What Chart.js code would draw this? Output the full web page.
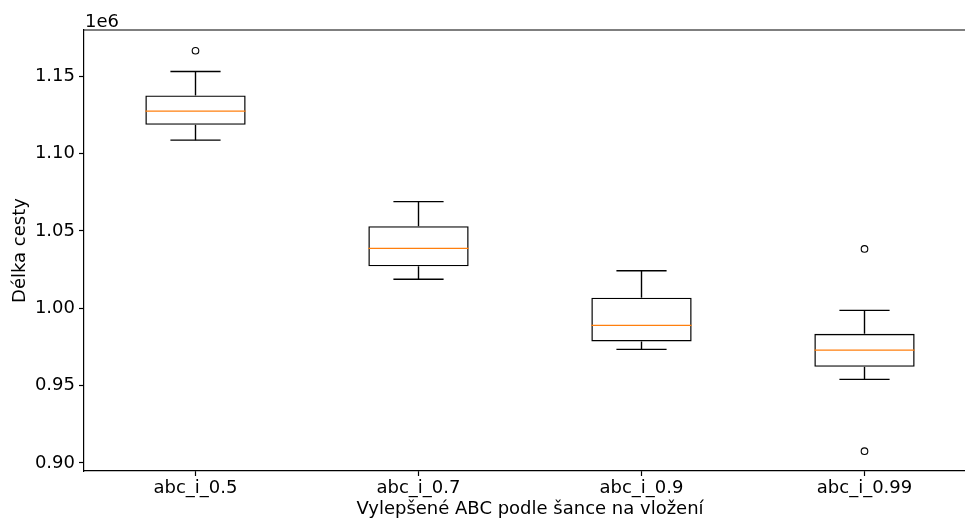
<!DOCTYPE html>
<html><head><meta charset="utf-8">
<script src="https://cdn.jsdelivr.net/npm/chart.js@4"></script>
<style>
html,body{margin:0;padding:0;overflow:hidden;background:#fff}
#wrap{width:965px;height:520px;overflow:hidden;position:relative}
canvas{display:block}
</style>
</head><body>
<div id="wrap"><canvas id="c" width="1000" height="520" style="width:1000px;height:520px"></canvas></div>
<script>
const categories = ['abc_i_0.5', 'abc_i_0.7', 'abc_i_0.9', 'abc_i_0.99'];
const whiskerLow  = [1108600, 1018700, 973400, 954000];
const q1          = [1118500, 1027100, 978500, 962100];
const median      = [1127400, 1038700, 988900, 972900];
const q3          = [1137500, 1053000, 1006800, 983500];
const whiskerHigh = [1153000, 1068900, 1024200, 998600];
const outliers    = [[1166400], [], [], [1038300, 907600]];
const yTicks = [900000, 950000, 1000000, 1050000, 1100000, 1150000];
const yMin = 894800, yMax = 1179800;
const FONT = 'DejaVu Sans';

const boxParts = {
  id: 'boxParts',
  afterDatasetsDraw(chart) {
    const {ctx, scales: {x, y}, chartArea} = chart;
    const meta = chart.getDatasetMeta(0);
    const seg = (x1, y1, x2, y2) => { ctx.beginPath(); ctx.moveTo(x1, y1); ctx.lineTo(x2, y2); ctx.stroke(); };
    ctx.save();
    categories.forEach((c, i) => {
      const cx = x.getPixelForValue(i);
      const bw = meta.data[i].width;
      ctx.strokeStyle = '#000'; ctx.lineWidth = 1.4;
      seg(cx, y.getPixelForValue(q3[i]), cx, y.getPixelForValue(whiskerHigh[i]));
      seg(cx, y.getPixelForValue(q1[i]), cx, y.getPixelForValue(whiskerLow[i]));
      seg(cx - bw / 4, y.getPixelForValue(whiskerHigh[i]), cx + bw / 4, y.getPixelForValue(whiskerHigh[i]));
      seg(cx - bw / 4, y.getPixelForValue(whiskerLow[i]), cx + bw / 4, y.getPixelForValue(whiskerLow[i]));
      ctx.strokeStyle = '#ff7f0e';
      const my = y.getPixelForValue(median[i]);
      seg(cx - bw / 2, my, cx + bw / 2, my);
    });
    ctx.strokeStyle = '#000'; ctx.lineWidth = 1.2;
    seg(chartArea.left, chartArea.top, chartArea.right, chartArea.top);
    seg(chartArea.right, chartArea.top, chartArea.right, chartArea.bottom);
    ctx.fillStyle = '#000';
    ctx.font = '18px "' + FONT + '"';
    ctx.textAlign = 'left'; ctx.textBaseline = 'alphabetic';
    ctx.fillText('1e6', chartArea.left + 1, chartArea.top - 3);
    ctx.restore();
  }
};

const outlierPoints = [];
outliers.forEach((arr, i) => arr.forEach(v => outlierPoints.push({x: categories[i], y: v})));

new Chart(document.getElementById('c'), {
  type: 'bar',
  data: {
    labels: categories,
    datasets: [
      {
        type: 'bar',
        data: q1.map((v, i) => [v, q3[i]]),
        backgroundColor: 'rgba(0,0,0,0)',
        borderColor: '#000',
        borderWidth: 1.4,
        borderSkipped: false,
        barPercentage: 0.45,
        categoryPercentage: 1,
        grouped: false
      },
      {
        type: 'line',
        data: outlierPoints,
        showLine: false,
        pointRadius: 3.3,
        pointBackgroundColor: 'rgba(0,0,0,0)',
        pointBorderColor: '#000',
        pointBorderWidth: 1.1
      }
    ]
  },
  options: {
    responsive: false,
    animation: false,
    devicePixelRatio: 1,
    layout: {padding: {top: 30, right: 24, left: 0, bottom: 0}},
    plugins: {legend: {display: false}, tooltip: {enabled: false}},
    scales: {
      x: {
        type: 'category',
        offset: true,
        grid: {display: true, drawOnChartArea: false, drawTicks: true, tickLength: 5, tickWidth: 1.2, tickColor: '#000', offset: false},
        border: {display: true, color: '#000', width: 1.2},
        ticks: {color: '#000', font: {size: 18, family: FONT}, padding: 2, maxRotation: 0},
        title: {display: true, text: 'Vylepšené ABC podle šance na vložení', color: '#000', font: {size: 18, family: FONT}, padding: {top: 0, bottom: 0}},
        afterFit: s => { s.height = 49; }
      },
      y: {
        type: 'linear',
        min: yMin,
        max: yMax,
        afterBuildTicks: s => { s.ticks = yTicks.map(v => ({value: v})); },
        grid: {display: true, drawOnChartArea: false, drawTicks: true, tickLength: 5, tickWidth: 1.2, tickColor: '#000'},
        border: {display: true, color: '#000', width: 1.2},
        ticks: {color: '#000', font: {size: 18, family: FONT}, padding: 4, callback: v => (v / 1e6).toFixed(2)},
        title: {display: true, text: 'Délka cesty', color: '#000', font: {size: 18, family: FONT}, padding: {top: 10, bottom: 0}},
        afterFit: s => { s.width = 84; }
      }
    }
  },
  plugins: [boxParts]
});
</script>
</body></html>
